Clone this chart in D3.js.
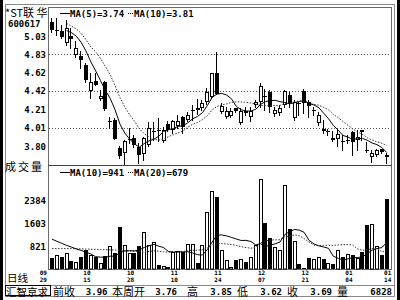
<!DOCTYPE html>
<html><head><meta charset="utf-8">
<script src="https://cdn.jsdelivr.net/npm/d3@7"></script>
<style>
html,body{margin:0;padding:0;background:#fff;}
svg{display:block;}
.mono{font-family:"DejaVu Sans Mono",monospace;font-weight:bold;fill:#000;}
.cjk{font-family:"Noto Sans CJK SC",sans-serif;fill:#000;}
</style></head><body>
<svg id="c" width="400" height="300"></svg>
<script>
const stockName = "*ST联 华";
const stockCode = "600617";
const opens  = [5.19,5.09,5.09,4.95,5.03,4.82,4.81,4.71,4.42,4.53,4.33,4.52,4.085,4.10,3.79,3.73,3.88,3.90,3.80,3.72,3.82,3.97,3.99,3.86,4.05,3.99,4.03,4.13,4.10,4.205,4.23,4.23,4.30,4.35,4.62,4.19,4.13,4.14,4.23,4.06,4.20,4.13,4.26,4.30,4.36,4.41,4.16,4.17,4.26,4.38,4.12,4.285,4.42,4.30,4.205,4.06,4.00,3.97,3.90,3.89,3.865,3.86,3.96,3.87,3.99,3.76,3.68,3.71,3.77,3.71];
const highs  = [5.23,5.23,5.15,5.21,5.12,4.97,4.86,4.73,4.62,4.62,4.43,4.53,4.13,4.12,3.81,3.87,4.01,3.93,3.84,3.91,4.07,4.07,4.12,4.02,4.08,4.10,4.15,4.14,4.19,4.26,4.33,4.32,4.45,4.62,4.85,4.29,4.24,4.23,4.23,4.23,4.24,4.24,4.32,4.51,4.44,4.43,4.24,4.26,4.43,4.41,4.32,4.30,4.44,4.32,4.24,4.19,4.10,4.00,3.97,3.98,3.93,3.93,3.97,3.99,3.99,3.85,3.76,3.78,3.78,3.73];
const lows   = [5.07,5.04,5.01,4.93,4.90,4.80,4.67,4.52,4.34,4.48,4.32,4.21,4.01,3.89,3.67,3.60,3.84,3.80,3.62,3.65,3.81,3.875,3.86,3.85,3.97,3.95,4.01,3.95,4.08,4.10,4.16,4.21,4.27,4.34,4.39,4.18,4.12,4.13,4.19,4.05,4.15,4.08,4.24,4.24,4.21,4.19,4.14,4.15,4.24,4.24,4.10,4.15,4.17,4.13,4.15,4.04,3.95,3.93,3.86,3.81,3.76,3.84,3.71,3.76,3.87,3.74,3.63,3.70,3.73,3.62];
const closes = [5.10,5.10,5.02,5.12,5.00,4.90,4.76,4.54,4.52,4.49,4.36,4.22,4.09,3.89,3.70,3.86,3.885,3.82,3.71,3.90,4.01,3.975,3.985,3.98,3.99,4.08,4.09,4.02,4.15,4.21,4.21,4.29,4.41,4.62,4.39,4.25,4.20,4.20,4.20,4.20,4.18,4.20,4.30,4.47,4.355,4.24,4.21,4.23,4.42,4.28,4.30,4.28,4.28,4.25,4.21,4.15,3.97,3.975,3.88,3.94,3.86,3.88,3.85,3.91,3.96,3.755,3.73,3.76,3.745,3.69];
const volumes = [418,509,452,600,306,283,452,679,509,452,260,475,815,600,1471,849,600,588,815,1300,849,960,193,147,113,622,656,622,883,883,248,849,2000,2700,2500,700,340,100,340,380,300,450,850,3100,1600,1100,800,700,2900,1400,1000,204,90,418,384,452,401,248,204,702,452,566,532,430,622,1528,1585,815,509,2435];
const ma5Lead = [null,null,null,5.09];
const ma10Lead = [null,null,null,5.17,5.14,5.11,5.06,4.99,4.91];
const volMa10Lead = [1060,990,920,850,790,730,680,620,560];
const volMa20Lead = [740,740,740,740,740,735,730,725,720,715,710,705,700,690,680,670,660,650,640];
const priceTicks = [5.03,4.83,4.62,4.42,4.21,4.01,3.80];
const priceGrid = [4.83,4.42,4.01];
const volTicks = [821,1603,2384];
const dateTickIdx = [-2,7,16,25,34,43,52,61,69];
const dateTickTop = ["09","10","10","11","11","12","12","01","01"];
const dateTickBot = ["29","15","28","10","24","07","21","04","14"];
const statusTitle = "汇智京求";
const statusLabels = ["前收","本周开","高","低","收","量"];
const statusValues = ["3.96","3.76","3.85","3.62","3.69","6828"];
const legendPrice = ["MA(5)=3.74","MA(10)=3.81"];
const legendVol = ["MA(10)=941","MA(20)=679"];

const svg = d3.select("#c");
const PL=48, PR=392, PT=7, PM=165, PB=269;
const n = closes.length;
const x = d3.scaleLinear().domain([0, n-1]).range([52, 386.7]);
const yP = d3.scaleLinear().domain([3.80, 5.03]).range([146.7, 36.0]);
const yV = d3.scaleLinear().domain([0, 2384]).range([270.4, 200.2]);

function movingAvg(arr, w, lead){
  return arr.map((_, i) => i >= w-1 ? d3.mean(arr.slice(i-w+1, i+1)) : (lead[i] ?? null));
}
const ma5 = movingAvg(closes, 5, ma5Lead);
const ma10 = movingAvg(closes, 10, ma10Lead);
const vma10 = movingAvg(volumes, 10, volMa10Lead);
const vma20 = movingAvg(volumes, 20, volMa20Lead);

svg.append("rect").attr("width",400).attr("height",300).attr("fill","#fff");
const defs = svg.append("defs");
defs.append("clipPath").attr("id","cp").append("rect").attr("x",PL+1).attr("y",PT+1).attr("width",PR-PL-1).attr("height",PM-PT-1);
defs.append("clipPath").attr("id","cv").append("rect").attr("x",PL+1).attr("y",PM+1).attr("width",PR-PL-1).attr("height",PB-PM);

// black side borders
svg.append("rect").attr("x",0).attr("y",0).attr("width",3).attr("height",300).attr("fill","#000");
svg.append("rect").attr("x",397).attr("y",0).attr("width",3).attr("height",300).attr("fill","#000");
// outer gray frame
svg.append("rect").attr("x",5.5).attr("y",4.5).attr("width",389).attr("height",292).attr("fill","none").attr("stroke","#8a8a8a");
// plot frame
svg.append("rect").attr("x",PL+0.5).attr("y",PT+0.5).attr("width",PR-PL-1).attr("height",PB-PT).attr("fill","none").attr("stroke","#6a6a6a");
svg.append("line").attr("x1",PL).attr("x2",PR).attr("y1",PM+0.5).attr("y2",PM+0.5).attr("stroke","#444");

// gridlines
svg.append("g").selectAll("line").data(priceGrid).join("line")
  .attr("x1",PL+1).attr("x2",PR-1)
  .attr("y1",d=>Math.round(yP(d))+0.5).attr("y2",d=>Math.round(yP(d))+0.5)
  .attr("stroke","#555").attr("stroke-dasharray","1,2");

// price tick labels
svg.append("g").selectAll("text").data(priceTicks).join("text")
  .attr("class","mono").attr("font-size",9).attr("text-anchor","end")
  .attr("x",46).attr("y",d=>yP(d)+3.5).text(d=>d.toFixed(2));
// volume tick labels
svg.append("g").selectAll("text").data(volTicks).join("text")
  .attr("class","mono").attr("font-size",9).attr("text-anchor","end")
  .attr("x",46).attr("y",d=>yV(d)+3.5).text(d=>d);

// header texts
svg.append("text").attr("class","cjk").attr("font-size",11).attr("x",5).attr("y",17).text(stockName);
svg.append("text").attr("class","mono").attr("font-size",9).attr("x",8).attr("y",27).text(stockCode);
svg.append("text").attr("class","cjk").attr("font-size",11).attr("letter-spacing",2).attr("x",5).attr("y",171).text("成交量");

function legend(y, items){
  svg.append("line").attr("x1",60).attr("x2",70).attr("y1",y-3.5).attr("y2",y-3.5).attr("stroke","#000");
  svg.append("text").attr("class","mono").attr("font-size",9).attr("x",70).attr("y",y).text(items[0]);
  svg.append("line").attr("x1",128).attr("x2",134).attr("y1",y-3.5).attr("y2",y-3.5).attr("stroke","#000").attr("stroke-dasharray","1,1");
  svg.append("text").attr("class","mono").attr("font-size",9).attr("x",134).attr("y",y).text(items[1]);
}
legend(17, legendPrice);
legend(176, legendVol);

// candles
const gc = svg.append("g").attr("clip-path","url(#cp)");
const idx = d3.range(n);
const left = i => Math.round(x(i) - 2);
gc.selectAll("line.w").data(idx).join("line").attr("class","w")
  .attr("x1",i=>left(i)+1.5).attr("x2",i=>left(i)+1.5)
  .attr("y1",i=>Math.round(yP(highs[i]))).attr("y2",i=>Math.round(yP(lows[i]))+1)
  .attr("stroke","#000");
idx.forEach(i => {
  const up = closes[i] >= opens[i];
  const yt = Math.round(yP(Math.max(opens[i],closes[i])));
  const yb = Math.round(yP(Math.min(opens[i],closes[i])));
  const L = left(i);
  if (yb - yt < 2) {
    gc.append("rect").attr("x",L).attr("y",yt).attr("width",4).attr("height",Math.max(1,yb-yt)).attr("fill","#000");
  } else if (up) {
    gc.append("rect").attr("x",L+0.5).attr("y",yt+0.5).attr("width",3).attr("height",yb-yt-1)
      .attr("fill","#fff").attr("stroke","#000");
  } else {
    gc.append("rect").attr("x",L).attr("y",yt).attr("width",4).attr("height",yb-yt).attr("fill","#000");
  }
});

// MA lines
const lineP = d3.line().defined(d=>d!=null).x((d,i)=>x(i)).y(d=>yP(d));
gc.append("path").attr("d",lineP(ma10)).attr("fill","none").attr("stroke","#333").attr("stroke-dasharray","1.5,1.5");
gc.append("path").attr("d",lineP(ma5)).attr("fill","none").attr("stroke","#000");

// volume bars
const gv = svg.append("g").attr("clip-path","url(#cv)");
idx.forEach(i => {
  const up = closes[i] >= opens[i];
  const top = Math.round(yV(volumes[i]));
  const L = left(i);
  if (up) {
    gv.append("rect").attr("x",L+0.5).attr("y",top+0.5).attr("width",3).attr("height",PB-top-0.5)
      .attr("fill","#fff").attr("stroke","#000");
  } else {
    gv.append("rect").attr("x",L).attr("y",top).attr("width",4).attr("height",PB-top).attr("fill","#000");
  }
});
const lineV = d3.line().defined(d=>d!=null).x((d,i)=>x(i)).y(d=>yV(d));
gv.append("path").attr("d",lineV(vma20)).attr("fill","none").attr("stroke","#333").attr("stroke-dasharray","1.5,1.5");
gv.append("path").attr("d",lineV(vma10)).attr("fill","none").attr("stroke","#000");

// date labels
svg.append("text").attr("class","cjk").attr("font-size",10.5).attr("x",7).attr("y",281.5).text("日线");
const gd = svg.append("g");
dateTickIdx.forEach((t,k) => {
  gd.append("text").attr("class","mono").attr("font-size",6).attr("text-anchor","middle")
    .attr("x",x(t)+1).attr("y",275).text(dateTickTop[k]);
  gd.append("text").attr("class","mono").attr("font-size",6).attr("text-anchor","middle")
    .attr("x",x(t)+1).attr("y",281.5).text(dateTickBot[k]);
});

// status bar
svg.append("line").attr("x1",5).attr("x2",395).attr("y1",285.5).attr("y2",285.5).attr("stroke","#8a8a8a");
svg.append("rect").attr("x",5.5).attr("y",285.5).attr("width",45).attr("height",10).attr("fill","none").attr("stroke","#000");
svg.append("text").attr("class","cjk").attr("font-size",10.5).attr("x",6).attr("y",295.5).text(statusTitle);
const labelX = [53,112,187,237,287,337];
const valueX = [107.5,177,232,282,332,392];
statusLabels.forEach((s,k) => {
  svg.append("text").attr("class","cjk").attr("font-size",11).attr("x",labelX[k]).attr("y",295.5).text(s);
  svg.append("text").attr("class","mono").attr("font-size",9).attr("text-anchor","end").attr("x",valueX[k]).attr("y",295).text(statusValues[k]);
});
</script>
</body></html>
